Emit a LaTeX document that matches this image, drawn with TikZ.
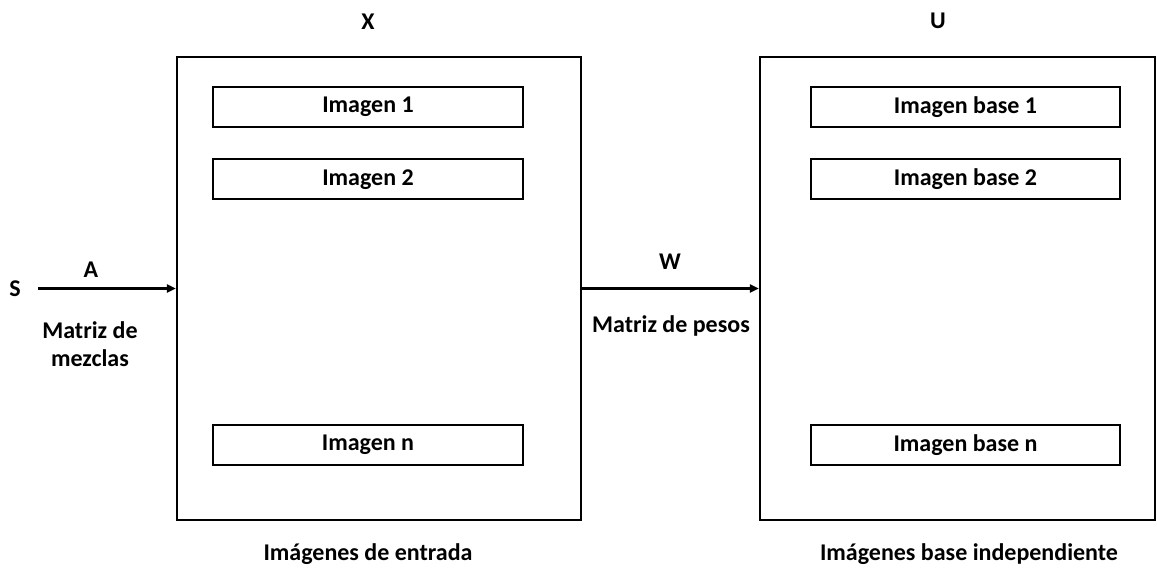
\documentclass[tikz,border=0pt]{standalone}
\usepackage{fontspec}
\setmainfont{Carlito}
\usetikzlibrary{arrows.meta}
\begin{document}
\begin{tikzpicture}[x=1pt,y=-1pt,
  txt/.style={font=\fontsize{24}{28}\selectfont\bfseries, inner sep=0pt, align=center},
  bigbox/.style={draw, line width=2.4pt, inner sep=0pt, minimum height=463pt},
  imgbox/.style={draw, line width=2pt, inner sep=0pt, minimum width=310pt, minimum height=40pt,
    font=\fontsize{24}{28}\selectfont\bfseries},
  flow/.style={line width=2.8pt, -{Triangle[length=9pt,width=8pt]}}]
\useasboundingbox (0,0) rectangle (1157,572);
% input images block
\node[bigbox, minimum width=404pt] (X) at (379,288.5) {};
\node[imgbox] (x1) at (368,107) {Imagen 1};
\node[imgbox] (x2) at (368,179.5) {Imagen 2};
\node[imgbox] (xn) at (368,445) {Imagen n};
\node[txt] (Xl) at (368,22) {X};
\node[txt] (Xb) at (368,554) {Imágenes de entrada};
% independent base images block
\node[bigbox, minimum width=395pt] (U) at (957.5,288.5) {};
\node[imgbox, minimum width=309pt] (u1) at (965.5,107) {Imagen base 1};
\node[imgbox, minimum width=309pt] (u2) at (965.5,179.5) {Imagen base 2};
\node[imgbox, minimum width=309pt] (un) at (965.5,445) {Imagen base n};
\node[txt] (Ul) at (938,21) {U};
\node[txt] (Ub) at (969,554) {Imágenes base independiente};
% sources and mixing matrix
\node[txt] (S) at (15,289) {S};
\coordinate (s0) at (38,288.5);
\draw[flow] (s0) -- (X.west);
\node[txt] (A) at (91,270) {A};
\node[txt] (mix) at (90,344) {Matriz de\\mezclas};
% weight matrix
\draw[flow] (X.east) -- (U.west);
\node[txt] (W) at (670,262) {W};
\node[txt] (wm) at (671,326) {Matriz de pesos};
\end{tikzpicture}
\end{document}
